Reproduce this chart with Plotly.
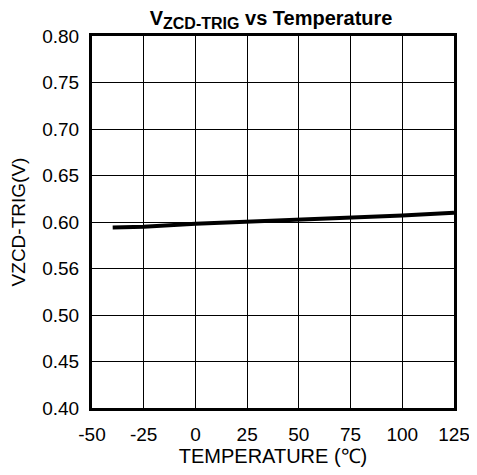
import plotly.graph_objects as go

temps = [-40, -25, 0, 25, 50, 75, 100, 125]
vtrig = [0.594, 0.595, 0.598, 0.600, 0.602, 0.604, 0.607, 0.610]

x_ticks = [-50, -25, 0, 25, 50, 75, 100, 125]
y_ticks = [0.40, 0.45, 0.50, 0.55, 0.60, 0.65, 0.70, 0.75, 0.80]
y_labels = ["0.40", "0.45", "0.50", "0.56", "0.60", "0.65", "0.70", "0.75", "0.80"]

font = "Liberation Sans, Arial, sans-serif"

fig = go.Figure()
fig.add_trace(go.Scatter(x=temps, y=vtrig, mode="lines",
                         line=dict(color="black", width=4), showlegend=False))

fig.update_layout(
    width=469, height=467,
    margin=dict(l=84, r=23, t=28, b=67, autoexpand=False),
    paper_bgcolor="white", plot_bgcolor="white",
    font=dict(family=font, size=19, color="black"),
    title=dict(text="<b>V<sub><span style='font-size:16px'>ZCD-TRIG</span></sub> vs Temperature</b>",
               x=0.561, xanchor="center", y=0.979, yanchor="middle",
               font=dict(size=20)),
    xaxis=dict(range=[-50, 125], tickvals=x_ticks, ticktext=[str(v) for v in x_ticks],
               showgrid=True, gridcolor="black", gridwidth=1,
               showline=True, linecolor="black", linewidth=3, mirror=True,
               ticks="outside", ticklen=7, tickcolor="rgba(0,0,0,0)", zeroline=False,
               automargin=False,
               title=dict(text="TEMPERATURE (℃)", standoff=4, font=dict(size=20))),
    yaxis=dict(range=[0.40, 0.80], tickvals=y_ticks, ticktext=y_labels,
               showgrid=True, gridcolor="black", gridwidth=1,
               showline=True, linecolor="black", linewidth=3, mirror=True,
               ticks="outside", ticklen=6, tickcolor="rgba(0,0,0,0)", zeroline=False,
               automargin=False,
               title=dict(text="VZCD-TRIG(V)", standoff=12, font=dict(size=19))),
)

fig.write_html("out.html")
